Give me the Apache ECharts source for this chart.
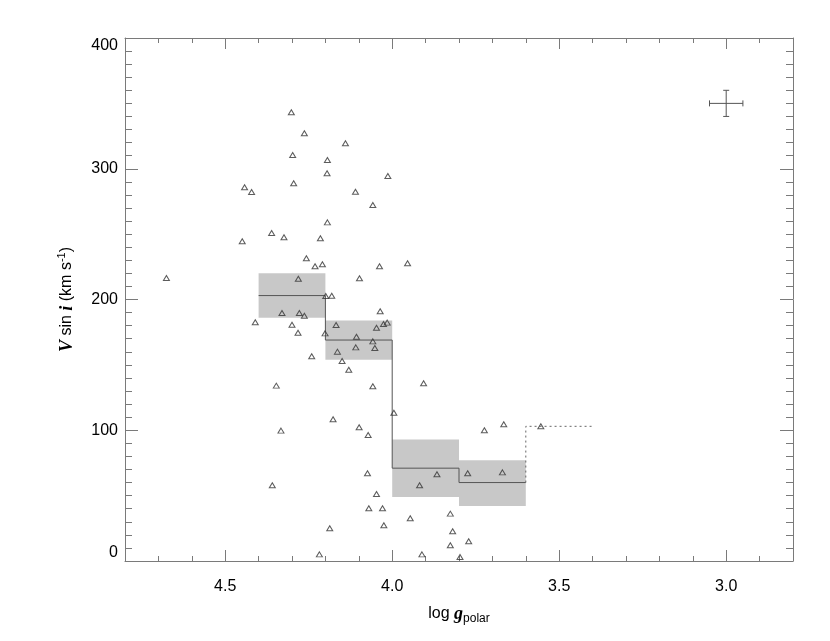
<!DOCTYPE html>
<html>
<head>
<meta charset="utf-8">
<script src="https://cdn.jsdelivr.net/npm/echarts@6/dist/echarts.min.js"></script>
<style>
  html, body { margin: 0; padding: 0; background: #fff; }
  #chart { width: 830px; height: 641px; }
</style>
</head>
<body>
<div id="chart"></div>
<script>
// stars: log g (polar) vs V sin i
const logg = [
  4.302, 4.263, 4.140, 4.298, 4.194, 4.195, 4.013, 4.295, 4.442, 4.421,
  4.110, 4.058, 4.194, 4.361, 4.324, 4.449, 4.215, 4.257, 4.231, 4.209,
  4.038, 3.954, 4.676, 4.281, 4.098, 4.199, 4.181, 4.330, 4.278, 4.263,
  4.036, 4.410, 4.300, 4.168, 4.047, 4.026, 4.015, 4.282, 4.201, 4.107,
  4.058, 4.109, 4.052, 4.164, 4.241, 4.150, 4.130, 4.347, 4.058, 3.995,
  4.177, 4.099, 4.333, 4.072, 4.074, 3.918, 4.359, 4.047, 4.070, 4.029,
  3.946, 4.025, 4.187, 4.218, 3.906, 3.724, 3.666, 3.555, 3.866, 3.774,
  3.670, 3.826, 3.819, 3.826, 3.771, 3.911, 3.797
]
const vsini = [
  343.2, 327.1, 319.5, 310.5, 306.7, 296.5, 294.5, 288.9, 285.8, 282.2,
  282.4, 272.3, 259.0, 250.9, 247.6, 244.5, 246.8, 231.5, 225.4, 226.9,
  225.4, 227.7, 216.4, 215.9, 216.2, 202.7, 202.9, 189.7, 189.7, 187.6,
  191.0, 182.6, 180.7, 180.5, 178.4, 181.3, 182.3, 174.6, 174.1, 171.5,
  168.0, 163.4, 162.9, 160.1, 156.6, 153.0, 146.3, 134.1, 133.6, 113.4,
  108.4, 102.3, 99.7, 96.4, 67.1, 57.9, 57.9, 51.2, 40.3, 40.3,
  32.7, 27.3, 25.0, 5.1, 135.9, 100.0, 104.6, 103.0, 66.3, 67.1,
  67.8, 36.2, 22.7, 12.0, 15.1, 5.1, 3.1
]

// binned means with their ranges
const binLo = [4.4, 4.2, 4.0, 3.8]
const binHi = [4.2, 4.0, 3.8, 3.6]
const binMean = [203, 169, 71, 60]
const binMin = [186, 154, 49, 42]
const binMax = [220, 184, 93, 77]

// last bin (dotted)
const lastLo = 3.6
const lastHi = 3.4
const lastMean = 103

// typical error bar
const errX = 3.0
const errY = 350
const errDX = 0.05
const errDY = 10

const xMajor = [4.5, 4.0, 3.5, 3.0]
const yMajorLabels = [0, 100, 200, 300, 400]

const axisColor = '#7a7a7a'
const font = 'Liberation Sans'

const chart = echarts.init(document.getElementById('chart'))

const stepData = []
binLo.forEach((lo, i) => {
  stepData.push([lo, binMean[i]])
  stepData.push([binHi[i], binMean[i]])
})
const dotData = [
  [lastLo, binMean[binMean.length - 1]],
  [lastLo, lastMean],
  [lastHi, lastMean]
]

function xAx(pos, minor, extra) {
  return Object.assign({
    type: 'value',
    min: 2.8,
    max: 4.8,
    inverse: true,
    position: pos,
    splitLine: { show: false },
    axisLine: { show: !minor, onZero: false, lineStyle: { color: axisColor, width: 1 } },
    axisTick: minor
      ? { show: true, inside: true, length: 5, lineStyle: { color: axisColor } }
      : { show: true, inside: true, length: 11, customValues: xMajor, lineStyle: { color: axisColor } },
    axisLabel: { show: false }
  }, minor ? { interval: 0.1 } : {}, extra || {})
}

function yAx(pos, showLabel) {
  return {
    type: 'value',
    min: 0,
    max: 400,
    interval: 100,
    position: pos,
    splitLine: { show: false },
    axisLine: { show: true, onZero: false, lineStyle: { color: axisColor, width: 1 } },
    axisTick: { show: true, inside: true, length: 13, lineStyle: { color: axisColor } },
    minorTick: { show: true, splitNumber: 10, length: 7, lineStyle: { color: axisColor } },
    axisLabel: showLabel ? {
      show: true,
      customValues: yMajorLabels,
      fontFamily: font,
      fontSize: 16,
      color: '#000',
      margin: 7,
      verticalAlignMaxLabel: 'top',
      verticalAlignMinLabel: 'bottom'
    } : { show: false },
    name: showLabel ? '{v|V}{t| sin }{i|i}{t| (km s}{sup|-1}{t|)}' : '',
    nameLocation: 'middle',
    nameRotate: 90,
    nameGap: 47,
    nameTextStyle: {
      rich: {
        v: { fontFamily: 'Liberation Serif', fontWeight: 'bold', fontStyle: 'italic', fontSize: 18, color: '#000', lineHeight: 22 },
        i: { fontFamily: 'Liberation Serif', fontWeight: 'bold', fontStyle: 'italic', fontSize: 18, color: '#000', lineHeight: 22 },
        t: { fontFamily: font, fontSize: 16, color: '#000', lineHeight: 22 },
        sup: { fontFamily: font, fontSize: 11, color: '#000', lineHeight: 11, verticalAlign: 'top' }
      }
    }
  }
}

const option = {
  animation: false,
  backgroundColor: '#fff',
  grid: { left: 125, right: 37, top: 38, bottom: 80 },
  xAxis: [
    xAx('bottom', false, {
      axisLabel: {
        show: true,
        customValues: xMajor,
        formatter: v => v.toFixed(1),
        fontFamily: font,
        fontSize: 16,
        color: '#000',
        margin: 18
      },
      name: '{a|log }{g|g}{s|polar}',
      nameLocation: 'middle',
      nameGap: 42,
      nameTextStyle: {
        rich: {
          a: { fontFamily: font, fontSize: 16, color: '#000', lineHeight: 22 },
          g: { fontFamily: 'Liberation Serif', fontWeight: 'bold', fontStyle: 'italic', fontSize: 18, color: '#000', lineHeight: 22 },
          s: { fontFamily: font, fontSize: 12, color: '#000', lineHeight: 12, verticalAlign: 'bottom' }
        }
      }
    }),
    xAx('bottom', true),
    xAx('top', false),
    xAx('top', true)
  ],
  yAxis: [yAx('left', true), yAx('right', false)],
  series: [
    {
      type: 'custom',
      z: 1,
      data: binLo.map((lo, i) => [lo, binHi[i], binMin[i], binMax[i]]),
      renderItem: function (params, api) {
        const p0 = api.coord([api.value(0), api.value(3)])
        const p1 = api.coord([api.value(1), api.value(2)])
        return {
          type: 'rect',
          shape: {
            x: Math.min(p0[0], p1[0]),
            y: Math.min(p0[1], p1[1]),
            width: Math.abs(p1[0] - p0[0]),
            height: Math.abs(p1[1] - p0[1])
          },
          style: { fill: '#c8c8c8' }
        }
      }
    },
    {
      type: 'line',
      z: 2,
      data: stepData,
      symbol: 'none',
      lineStyle: { color: '#555', width: 1 }
    },
    {
      type: 'line',
      z: 2,
      data: dotData,
      symbol: 'none',
      lineStyle: { color: '#666', width: 1, type: [2, 3] }
    },
    {
      type: 'scatter',
      z: 3,
      data: logg.map((x, i) => [x, vsini[i]]),
      symbol: 'triangle',
      symbolSize: [6, 5],
      itemStyle: { color: 'rgba(255,255,255,0)', borderColor: '#333', borderWidth: 1 }
    },
    {
      type: 'custom',
      z: 3,
      data: [[errX, errY, errDX, errDY]],
      renderItem: function (params, api) {
        const x = api.value(0), y = api.value(1), dx = api.value(2), dy = api.value(3)
        const l = api.coord([x + dx, y])
        const r = api.coord([x - dx, y])
        const t = api.coord([x, y + dy])
        const b = api.coord([x, y - dy])
        const st = { stroke: '#555', lineWidth: 1 }
        return {
          type: 'group',
          children: [
            { type: 'line', shape: { x1: l[0], y1: l[1], x2: r[0], y2: r[1] }, style: st },
            { type: 'line', shape: { x1: t[0], y1: t[1], x2: b[0], y2: b[1] }, style: st },
            { type: 'line', shape: { x1: l[0], y1: l[1] - 3, x2: l[0], y2: l[1] + 3 }, style: st },
            { type: 'line', shape: { x1: r[0], y1: r[1] - 3, x2: r[0], y2: r[1] + 3 }, style: st },
            { type: 'line', shape: { x1: t[0] - 3, y1: t[1], x2: t[0] + 3, y2: t[1] }, style: st },
            { type: 'line', shape: { x1: b[0] - 3, y1: b[1], x2: b[0] + 3, y2: b[1] }, style: st }
          ]
        }
      }
    }
  ]
}

chart.setOption(option)
</script>
</body>
</html>
